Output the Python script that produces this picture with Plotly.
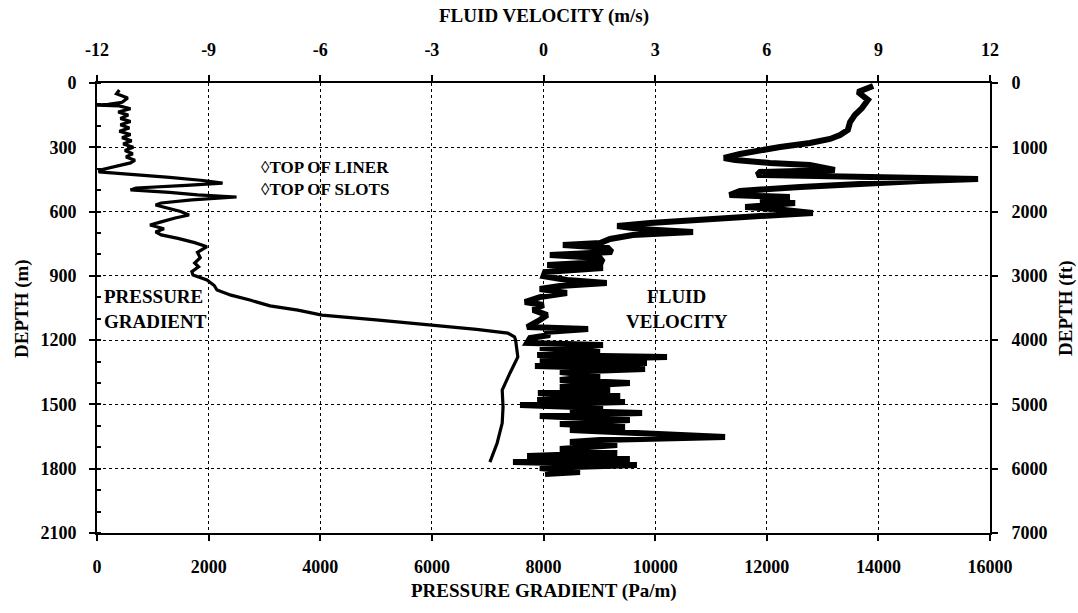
import plotly.graph_objects as go

# ---------------- data ----------------
# Pressure gradient profile (bottom axis, Pa/m) vs depth (m)
pg_depth = [33, 50, 70, 90, 100, 103, 107, 120, 135, 150, 165, 180, 195, 210, 225, 240,
            255, 270, 285, 300, 315, 330, 345, 360, 373, 390, 405, 415, 425, 440, 455, 467,
            478, 490, 499, 510, 522, 532, 545, 560, 569, 585, 600, 616, 630, 648, 663, 680,
            695, 709, 725, 745, 764, 790, 815, 840, 858, 880, 896, 919, 945, 966, 990, 1013,
            1040, 1060, 1083, 1105, 1129, 1150, 1167, 1185, 1199, 1246, 1279, 1353, 1433,
            1512, 1587, 1680, 1740, 1769]
pg_value = [400, 350, 550, 450, 200, 0, 400, 600, 380, 560, 420, 600, 420, 580, 400, 600,
            450, 620, 470, 650, 500, 640, 520, 680, 600, 300, 80, 30, 600, 1300, 1900, 2250,
            1600, 700, 600, 1300, 1800, 2500, 1700, 1150, 1050, 1300, 1500, 1650, 1400, 1150, 950, 1200,
            1050, 1150, 1450, 1750, 1970, 1800, 1850, 1750, 1820, 1700, 1720, 1970, 2100, 2150, 2400, 2740,
            3100, 3600, 4030, 5000, 6000, 6800, 7360, 7480, 7500, 7525, 7540, 7400, 7260,
            7275, 7260, 7170, 7080, 7040]

# Fluid velocity profile (top axis, m/s) vs depth (m)
fv_depth = [14, 42, 79, 117, 149, 182, 219, 243, 261, 280, 299, 313, 331, 350, 359, 373,
            383, 406, 415, 429, 439, 448, 457, 471, 485, 504, 523, 532, 546, 560, 579, 588,
            607, 621, 635, 653, 667, 681, 695, 709, 728, 747, 756, 770, 789, 803, 817, 835,
            849, 863, 882, 901, 919, 933, 947, 961, 980, 999, 1022, 1036, 1059, 1083, 1106,
            1139, 1148, 1162, 1176, 1190, 1213, 1223, 1237, 1255, 1269, 1279, 1293, 1307,
            1321, 1335, 1349, 1367, 1386, 1400, 1419, 1433, 1447, 1461, 1479, 1489, 1503,
            1517, 1531, 1540, 1554, 1573, 1591, 1605, 1619, 1638, 1652, 1666, 1675, 1689,
            1708, 1727, 1741, 1755, 1769, 1783, 1797, 1815, 1825]
fv_value = [8.86, 8.45, 8.72, 8.56, 8.37, 8.24, 8.18, 7.97, 7.7, 7.16, 6.36, 5.82, 5.28, 4.85, 5.15, 6.09,
            7.16, 7.83, 5.82, 5.74, 9.6, 11.68, 10.1, 7.97, 6.9, 5.28, 5.0, 6.62, 5.82, 6.76, 5.42, 6.22,
            7.24, 5.82, 4.2, 2.86, 1.98, 2.59, 4.02, 2.4, 1.79, 1.52, 0.52, 1.73, 1.84, 0.17, 1.52, 1.6,
            0.1, 1.6, 0.04, 0.0, 0.63, 1.7, 0.44, -0.1, 0.63, -0.1, -0.5, 0.0, -0.28, 0.1, -0.1,
            -0.44, 1.2, 0.04, 0.17, -0.36, -0.44, 1.6, -0.1, 1.52, -0.17, 3.32, -0.1, 2.78,
            -0.23, 2.73, 0.44, 1.52, 0.44, 2.32, 0.44, 1.79, -0.15, 2.06, -0.17, 2.19, -0.63,
            1.6, 0.71, 2.65, -0.1, 2.32, 0.44, 2.19, 0.71, 3.13, 4.88, 1.52, 0.71, 1.98,
            0.44, 1.98, -0.44, 2.32, -0.82, 2.51, -0.1, 0.98, 0.04]

pg_ticks = [0, 2000, 4000, 6000, 8000, 10000, 12000, 14000, 16000]
fv_ticks = [-12, -9, -6, -3, 0, 3, 6, 9, 12]
depth_m_ticks = [0, 300, 600, 900, 1200, 1500, 1800, 2100]
depth_ft_ticks = [0, 1000, 2000, 3000, 4000, 5000, 6000, 7000]

# ---------------- figure ----------------
FONT = "Liberation Serif, Times New Roman, serif"
tickfont = dict(family=FONT, size=18, color="black", weight="bold")

fig = go.Figure()
fig.add_trace(go.Scatter(x=pg_value, y=pg_depth, mode="lines",
                         line=dict(color="black", width=3.2),
                         xaxis="x", yaxis="y", showlegend=False, hoverinfo="skip"))
fig.add_trace(go.Scatter(x=fv_value, y=fv_depth, mode="lines",
                         line=dict(color="black", width=6),
                         xaxis="x2", yaxis="y", showlegend=False, hoverinfo="skip"))
# invisible trace to register the right-hand (ft) axis
fig.add_trace(go.Scatter(x=[None], y=[None], mode="lines", xaxis="x", yaxis="y2",
                         showlegend=False, hoverinfo="skip"))

axis_common = dict(showline=True, linecolor="black", linewidth=2, zeroline=False,
                   tickfont=tickfont, ticks="outside", ticklen=6, tickcolor="black",
                   tickwidth=1.5, automargin=False)

fig.update_layout(
    width=1078, height=613,
    margin=dict(l=97, r=88, t=83, b=80),
    paper_bgcolor="white", plot_bgcolor="white",
    xaxis=dict(range=[0, 16000], tickvals=pg_ticks, ticktext=[str(v) for v in pg_ticks],
               showgrid=True, gridcolor="black", griddash="dot", gridwidth=1,
               ticklabelstandoff=10, **axis_common),
    xaxis2=dict(range=[-12, 12], tickvals=fv_ticks, ticktext=[str(v) for v in fv_ticks],
                overlaying="x", side="top", anchor="y", showgrid=False,
                ticklabelstandoff=12, **axis_common),
    yaxis=dict(range=[2100, 0], tickvals=depth_m_ticks, ticktext=[str(v) for v in depth_m_ticks],
               showgrid=True, gridcolor="black", griddash="dot", gridwidth=1,
               ticklabelstandoff=9,
               minor=dict(dtick=100, ticks="inside", ticklen=4, tickcolor="black", showgrid=False),
               **axis_common),
    yaxis2=dict(range=[7000, 0], tickvals=depth_ft_ticks, ticktext=[str(v) for v in depth_ft_ticks],
                overlaying="y", side="right", anchor="x", showgrid=False,
                ticklabelstandoff=10, **axis_common),
)

title_font = dict(family=FONT, size=19, color="black", weight="bold")
label_font = dict(family=FONT, size=19, color="black", weight="bold")
top_font = dict(family=FONT, size=17, color="black", weight="bold")

# axis titles (placed as paper annotations)
fig.add_annotation(text="FLUID VELOCITY (m/s)", xref="paper", yref="paper",
                   x=0.50, y=1.149, xanchor="center", yanchor="middle",
                   showarrow=False, font=title_font)
fig.add_annotation(text="PRESSURE GRADIENT (Pa/m)", xref="paper", yref="paper",
                   x=0.50, y=-0.129, xanchor="center", yanchor="middle",
                   showarrow=False, font=title_font)
fig.add_annotation(text="DEPTH (m)", xref="paper", yref="paper",
                   x=-0.084, y=0.5, xanchor="center", yanchor="middle",
                   showarrow=False, textangle=-90, font=title_font)
fig.add_annotation(text="DEPTH (ft)", xref="paper", yref="paper",
                   x=1.085, y=0.5, xanchor="center", yanchor="middle",
                   showarrow=False, textangle=-90, font=title_font)

# in-plot labels
fig.add_annotation(text="PRESSURE<br>GRADIENT", xref="x", yref="y", x=90, y=1055,
                   xanchor="left", yanchor="middle", align="left", showarrow=False, font=label_font)
fig.add_annotation(text="FLUID<br>VELOCITY", xref="x2", yref="y", x=3.6, y=1055,
                   xanchor="center", yanchor="middle", align="center", showarrow=False, font=label_font)
fig.add_annotation(text="\u25caTOP OF LINER<br>\u25caTOP OF SLOTS", xref="x", yref="y",
                   x=2900, y=446, xanchor="left", yanchor="middle", align="left",
                   showarrow=False, font=top_font)

fig.write_html("out.html",
               config={"displayModeBar": False},
               post_script="document.body.style.margin='0';document.body.style.overflow='hidden';")
